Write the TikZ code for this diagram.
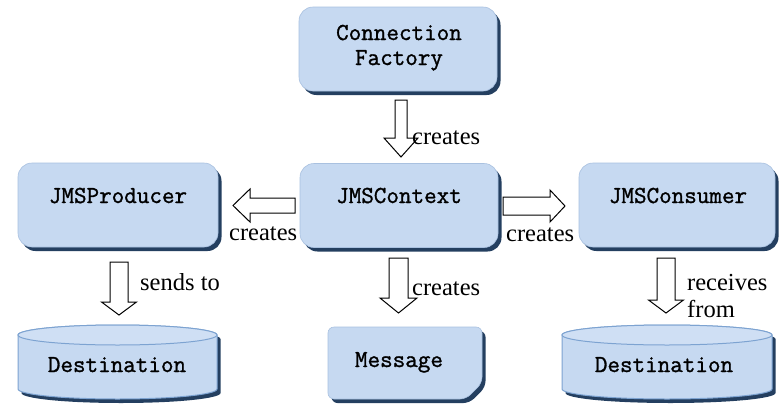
\documentclass[tikz,border=0pt]{standalone}
\usepackage{fontspec}
\setmainfont{Liberation Serif}
\newfontfamily\boxfont{Latin Modern Mono}[FakeBold=1.2]
\usetikzlibrary{shadows}

\definecolor{boxfill}{HTML}{C6D9F1}
\definecolor{boxedge}{HTML}{A9C1E0}
\definecolor{navyshadow}{HTML}{243F60}
\definecolor{drumedge}{HTML}{7DA3D1}
\definecolor{drumtop}{HTML}{CFDFF4}

% block arrow pointing down: centre x, top y, head base y, tip y, half shaft, half head
\newcommand{\blockdown}[6]{%
  \draw[blockarrow] (#1-#5,#2) -- (#1+#5,#2) -- (#1+#5,#3) -- (#1+#6,#3)
    -- (#1,#4) -- (#1-#6,#3) -- (#1-#5,#3) -- cycle;}
% horizontal block arrow: centre y, tail x, head base x, tip x, half shaft, half head
\newcommand{\blockside}[6]{%
  \draw[blockarrow] (#2,#1-#5) -- (#3,#1-#5) -- (#3,#1-#6) -- (#4,#1)
    -- (#3,#1+#6) -- (#3,#1+#5) -- (#2,#1+#5) -- cycle;}
% drum: centre x, x radius, top ellipse y, bottom ellipse y, y radius
\newcommand{\drumbody}[5]{%
  (#1-#2,#3) -- (#1-#2,#4)
  arc[start angle=180, end angle=360, x radius=#2pt, y radius=#5pt]
  -- (#1+#2,#3)
  arc[start angle=0, end angle=180, x radius=#2pt, y radius=#5pt] -- cycle}
\newcommand{\drum}[5]{%
  \begin{scope}[shift={(3.5,4)}]
    \fill[fill=navyshadow] \drumbody{#1}{#2}{#3}{#4}{#5};
  \end{scope}
  \filldraw[fill=boxfill, draw=drumedge, line width=1pt] \drumbody{#1}{#2}{#3}{#4}{#5};
  \filldraw[fill=drumtop, draw=drumedge, line width=1pt]
    (#1,#3) ellipse [x radius=#2pt, y radius=#5pt];}

\tikzset{
  box/.style={rectangle, rounded corners=14pt, fill=boxfill, draw=boxedge,
    line width=0.6pt, minimum width=198pt, minimum height=84pt,
    drop shadow={fill=navyshadow, opacity=1, shadow xshift=3.5pt, shadow yshift=-4pt}},
  boxtext/.style={font=\boxfont\fontsize{24.4}{25}\selectfont,
    inner sep=0pt, anchor=base},
  lbl/.style={font=\fontsize{24.5}{28}\selectfont, inner sep=0pt, anchor=base west},
  blockarrow/.style={fill=white, draw=black, line width=1pt, line join=miter}
}

\begin{document}
\begin{tikzpicture}[x=1pt, y=-1pt]
\useasboundingbox (0,0) rectangle (780,405);
\fill[white] (0,0) rectangle (780,405);

% rounded boxes
\node[box] (cf)   at (398,49)    {};
\node[box] (ctx)  at (399,205.5) {};
\node[box, minimum width=200pt] (prod) at (118,205) {};
\node[box, minimum width=196pt] (cons) at (677,205) {};

\node[boxtext] (cf1) at (399,40) {Connection};
\node[boxtext] (cf2) at (399,65) {Factory};
\node[boxtext] (ctxt)  at (399,203) {JMSContext};
\node[boxtext] (prodt) at (118,203) {JMSProducer};
\node[boxtext] (const) at (678,203) {JMSConsumer};

% message sheet with a cut corner
\begin{scope}[shift={(3.5,4)}]
  \fill[fill=navyshadow, rounded corners=6pt]
    (328,399) -- (328,327) -- (482,327) -- (482,383) -- (466,399) -- cycle;
\end{scope}
\filldraw[fill=boxfill, draw=boxedge, line width=0.6pt, rounded corners=6pt]
  (328,399) -- (328,327) -- (482,327) -- (482,383) -- (466,399) -- cycle;
\node[boxtext] (msg) at (399,367) {Message};

% destinations
\drum{117.5}{99.5}{335}{389}{10}
\drum{667}{105}{335}{389}{10}
\node[boxtext] (dest1) at (117,372) {Destination};
\node[boxtext] (dest2) at (664,372) {Destination};

% block arrows
\blockdown{401}{100}{138}{157}{6}{17}
\blockside{205.5}{295}{250}{233}{7.5}{16.5}
\blockside{206}{503}{550}{565}{9}{16}
\blockdown{398.5}{258}{298}{313}{9.5}{18.5}
\blockdown{119}{262}{302}{315}{9}{17.5}
\blockdown{666}{258}{300}{313}{9}{17.5}

% arrow labels
\node[lbl] (l1) at (412,144) {creates};
\node[lbl] (l2) at (229,240) {creates};
\node[lbl] (l3) at (506,241) {creates};
\node[lbl] (l4) at (412,295) {creates};
\node[lbl] (l5) at (140,290) {sends to};
\node[lbl] (l6) at (687,290) {receives};
\node[lbl] (l7) at (687,317) {from};
\end{tikzpicture}
\end{document}
